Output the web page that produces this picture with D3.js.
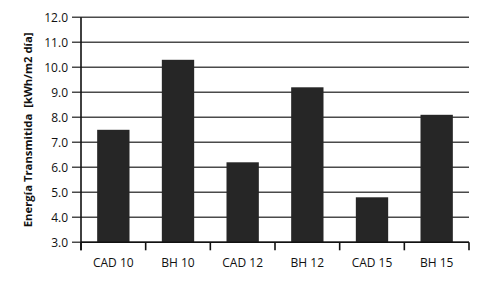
<!DOCTYPE html>
<html>
<head>
<meta charset="utf-8">
<script src="https://cdn.jsdelivr.net/npm/d3@7"></script>
<style>
  body { margin: 0; background: #fff; }
  svg { display: block; font-family: "Open Sans", "Noto Sans", sans-serif; }
</style>
</head>
<body>
<svg id="chart"></svg>
<script>
// data
const categories = ["CAD 10", "BH 10", "CAD 12", "BH 12", "CAD 15", "BH 15"];
const values = [7.5, 10.3, 6.2, 9.2, 4.8, 8.1];
const yTicks = [3, 4, 5, 6, 7, 8, 9, 10, 11, 12];
const yTitle = "Energía Transmitida  [kWh/m2 día]";

const width = 486, height = 290;
const margin = { left: 81, right: 17, top: 17.3, bottom: 47.7 };

const svg = d3.select("#chart")
    .attr("width", width)
    .attr("height", height);

const x = d3.scaleBand()
    .domain(categories)
    .range([margin.left, width - margin.right])
    .paddingInner(0.5)
    .paddingOuter(0.25);

const y = d3.scaleLinear()
    .domain([3, 12])
    .range([height - margin.bottom, margin.top]);

// gridlines (with the left tick stub)
svg.append("g")
    .selectAll("line")
    .data(yTicks)
    .enter()
    .append("line")
    .attr("x1", margin.left - 9)
    .attr("x2", width - margin.right)
    .attr("y1", d => y(d))
    .attr("y2", d => y(d))
    .attr("stroke", "#4a4a4a")
    .attr("stroke-width", 1.6);

// bars
svg.append("g")
    .selectAll("rect")
    .data(values)
    .enter()
    .append("rect")
    .attr("x", (d, i) => x(categories[i]))
    .attr("width", x.bandwidth())
    .attr("y", d => y(d))
    .attr("height", d => y(3) - y(d))
    .attr("fill", "#262626");

// y axis
const yAxis = svg.append("g")
    .attr("transform", `translate(${margin.left},0)`)
    .call(d3.axisLeft(y).tickValues(yTicks).tickSize(0).tickPadding(13).tickFormat(d3.format(".1f")));
yAxis.select(".domain").remove();
yAxis.selectAll("text")
    .attr("font-size", 12)
    .attr("fill", "#111")
    .attr("font-family", "Open Sans, sans-serif");

svg.append("line")
    .attr("x1", margin.left).attr("x2", margin.left)
    .attr("y1", y(12)).attr("y2", y(3) + 8)
    .attr("stroke", "#111")
    .attr("stroke-width", 1.6);

// x axis: ticks on band boundaries
const edges = d3.range(categories.length + 1).map(i => margin.left + i * x.step());
svg.append("line")
    .attr("x1", margin.left).attr("x2", width - margin.right)
    .attr("y1", y(3)).attr("y2", y(3))
    .attr("stroke", "#111")
    .attr("stroke-width", 1.6);
svg.append("g")
    .selectAll("line")
    .data(edges)
    .enter()
    .append("line")
    .attr("x1", d => d).attr("x2", d => d)
    .attr("y1", y(3)).attr("y2", y(3) + 8)
    .attr("stroke", "#111")
    .attr("stroke-width", 1.6);

svg.append("g")
    .selectAll("text")
    .data(categories)
    .enter()
    .append("text")
    .attr("x", d => x(d) + x.bandwidth() / 2)
    .attr("y", y(3) + 25)
    .attr("text-anchor", "middle")
    .attr("font-size", 12)
    .attr("fill", "#111")
    .text(d => d);

// y title
svg.append("text")
    .attr("transform", `translate(32,${(y(3) + y(12)) / 2}) rotate(-90)`)
    .attr("text-anchor", "middle")
    .attr("font-size", 11.3)
    .attr("font-weight", "bold")
    .attr("fill", "#111")
    .style("white-space", "pre")
    .text(yTitle);
</script>
</body>
</html>
